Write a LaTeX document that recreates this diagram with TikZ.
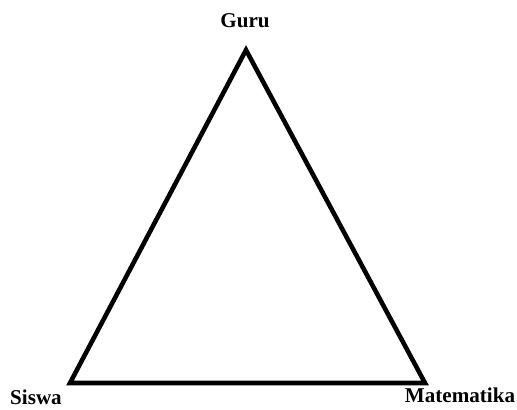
\documentclass[tikz,border=0pt]{standalone}
\usepackage{fontspec}
\setmainfont{Liberation Serif}
\tikzset{
  label text/.style={font=\fontsize{12}{14}\selectfont\bfseries, inner sep=0pt},
  side/.style={line width=2.6pt, line join=miter}
}
\begin{document}
\begin{tikzpicture}[x=0.02cm, y=0.02cm]
\useasboundingbox (0,0) rectangle (517,409);

% corners of the triangle
\coordinate (top) at (246,359);
\coordinate (left) at (70,26);
\coordinate (right) at (425,26);

% labels
\node[label text, anchor=south] (guru) at (245,381) {Guru};
\node[label text, anchor=south] (siswa) at (36,4) {Siswa};
\node[label text] (matematika) at (460,14) {Matematika};

% triangle
\draw[side] (top) -- (left) -- (right) -- cycle;

\end{tikzpicture}
\end{document}
